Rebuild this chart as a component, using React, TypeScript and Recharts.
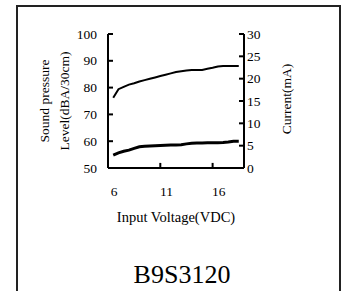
import React from 'react';
import { LineChart, Line, XAxis, YAxis, ReferenceLine } from 'recharts';

const voltage = [6, 6.5, 7, 7.5, 8, 8.5, 9, 9.5, 10, 10.5, 11, 11.5, 12, 12.5, 13, 13.5, 14, 14.5, 15, 15.5, 16, 16.5, 17, 17.5, 18];
const soundPressure = [76.2, 79.4, 80.3, 81.1, 81.6, 82.3, 82.8, 83.3, 83.8, 84.3, 84.8, 85.3, 85.8, 86.1, 86.4, 86.6, 86.6, 86.6, 87.0, 87.4, 87.9, 88.1, 88.1, 88.1, 88.1];
const current = [2.9, 3.4, 3.75, 4.0, 4.4, 4.75, 4.85, 4.95, 5.0, 5.05, 5.1, 5.15, 5.15, 5.2, 5.4, 5.55, 5.6, 5.6, 5.65, 5.65, 5.65, 5.7, 5.8, 6.0, 6.0];

const xTicks = [6, 11, 16];
const xTickMarks = [10.5, 15.5];
const leftTicks = [50, 60, 70, 80, 90, 100];
const rightTicks = [0, 5, 10, 15, 20, 25, 30];
const leftTitle = ['Sound pressure', 'Level(dBA/30cm)'];
const rightTitle = 'Current(mA)';
const xTitle = 'Input Voltage(VDC)';
const modelName = 'B9S3120';

const data = voltage.map((v, i) => ({ v, spl: soundPressure[i], cur: current[i] }));

const FONT = '"Liberation Serif", "Times New Roman", serif';
const txt = (size: number) => ({ fontFamily: FONT, fontSize: size, fill: '#000' });

const YTick = (props: any) => {
  const { x, y, payload, textAnchor } = props;
  return (
    <text x={x} y={y} textAnchor={textAnchor} dominantBaseline="central" style={txt(13.5)}>
      {payload.value}
    </text>
  );
};

const XTick = (props: any) => {
  const { x, y, payload } = props;
  return (
    <text x={x + 1} y={y + 9} textAnchor="middle" style={txt(13.5)}>
      {payload.value}
    </text>
  );
};

const LeftTitle = (props: any) => {
  const vb = props.viewBox || {};
  const cy = vb.y + vb.height / 2;
  const xs = [vb.x + 44, vb.x + 64];
  return (
    <g>
      {leftTitle.map((t, i) => (
        <text key={t} x={xs[i]} y={cy} transform={`rotate(-90, ${xs[i]}, ${cy})`} textAnchor="middle" dominantBaseline="central" style={txt(13.5)}>{t}</text>
      ))}
    </g>
  );
};

const RightTitle = (props: any) => {
  const vb = props.viewBox || {};
  const cy = vb.y + vb.height / 2 - 2;
  const x = vb.x + 42;
  return (
    <text x={x} y={cy} transform={`rotate(-90, ${x}, ${cy})`} textAnchor="middle" dominantBaseline="central" style={txt(13.5)}>{rightTitle}</text>
  );
};

const XTitle = (props: any) => {
  const vb = props.viewBox || {};
  const cx = vb.x + vb.width / 2;
  return (
    <g>
      <text x={cx} y={vb.y + 54} textAnchor="middle" style={txt(14.5)}>{xTitle}</text>
      <text x={cx + 6} y={vb.y + 115} textAnchor="middle" style={txt(26)}>{modelName}</text>
    </g>
  );
};

export default function App() {
  return (
    <div style={{ position: 'absolute', left: 0, top: 0, width: 345, height: 291, overflow: 'hidden', background: '#fff' }}>
      <div style={{ position: 'absolute', left: 16, top: 5, width: 321, height: 300, border: '2px solid #222' }} />
      <div style={{ position: 'absolute', left: 0, top: 0 }}>
        <LineChart width={345} height={291} data={data} margin={{ top: 34, right: 0, left: 0, bottom: 93 }}>
          <XAxis
            dataKey="v"
            type="number"
            domain={[5.5, 18.5]}
            ticks={xTicks}
            interval={0}
            tickLine={false}
            tickSize={0}
            tickMargin={19}
            height={30}
            axisLine={{ stroke: '#000', strokeWidth: 2 }}
            tick={XTick}
            label={{ content: XTitle }}
          />
          <YAxis
            yAxisId="left"
            orientation="left"
            domain={[50, 100]}
            ticks={leftTicks}
            interval={0}
            width={108}
            tickSize={-5}
            tickMargin={16}
            axisLine={{ stroke: '#000', strokeWidth: 2 }}
            tickLine={{ stroke: '#000', strokeWidth: 2 }}
            tick={YTick}
            label={{ content: LeftTitle }}
          />
          <YAxis
            yAxisId="right"
            orientation="right"
            domain={[0, 30]}
            ticks={rightTicks}
            interval={0}
            width={101}
            tickSize={-5}
            tickMargin={8}
            axisLine={{ stroke: '#000', strokeWidth: 2 }}
            tickLine={{ stroke: '#000', strokeWidth: 2 }}
            tick={YTick}
            label={{ content: RightTitle }}
          />
          {xTickMarks.map((m) => (
            <ReferenceLine key={m} yAxisId="left" segment={[{ x: m, y: 50 }, { x: m, y: 51.9 }]} stroke="#000" strokeWidth={2} />
          ))}
          <Line yAxisId="left" type="linear" dataKey="spl" stroke="#000" strokeWidth={2} dot={false} isAnimationActive={false} />
          <Line yAxisId="right" type="linear" dataKey="cur" stroke="#000" strokeWidth={3} dot={false} isAnimationActive={false} />
        </LineChart>
      </div>
    </div>
  );
}
